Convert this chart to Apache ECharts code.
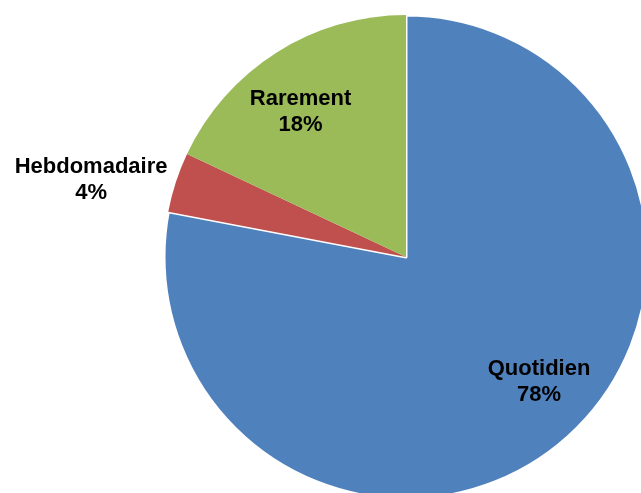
<!DOCTYPE html>
<html>
<head>
<meta charset="utf-8">
<script src="https://cdn.jsdelivr.net/npm/echarts@6/dist/echarts.min.js"></script>
<style>
  html, body { margin: 0; padding: 0; background: #ffffff; }
  #chart { width: 641px; height: 493px; }
</style>
</head>
<body>
<div id="chart"></div>
<script>
// Frequency categories and their shares (percent)
const categories = ['Quotidien', 'Hebdomadaire', 'Rarement'];
const shares = [78, 4, 18];
const colors = ['#4F81BD', '#C0504D', '#9BBB59'];
// Label nudges away from the default inside position
const labelShift = [[54, 29], [-197, -39], [-39, -40]];

const chart = echarts.init(document.getElementById('chart'), null, { renderer: 'canvas' });

const data = categories.map((name, i) => ({
  name: name,
  value: shares[i],
  itemStyle: {
    color: colors[i],
    borderColor: '#ffffff',
    borderWidth: i === 0 ? 3 : 0
  }
}));

chart.setOption({
  animation: false,
  backgroundColor: '#ffffff',
  series: [{
    type: 'pie',
    center: [406, 257],
    radius: [0, 242],
    startAngle: 90,
    clockwise: true,
    avoidLabelOverlap: false,
    data: data,
    label: {
      show: true,
      position: 'inside',
      formatter: '{b}\n{c}%',
      color: '#000000',
      fontFamily: 'Liberation Sans, Arial, sans-serif',
      fontWeight: 'bold',
      fontSize: 22,
      lineHeight: 26,
      align: 'center'
    },
    labelLine: { show: false },
    labelLayout: function (params) {
      const s = labelShift[params.dataIndex];
      return { dx: s[0], dy: s[1] };
    },
    emphasis: { disabled: true }
  }]
});
</script>
</body>
</html>
